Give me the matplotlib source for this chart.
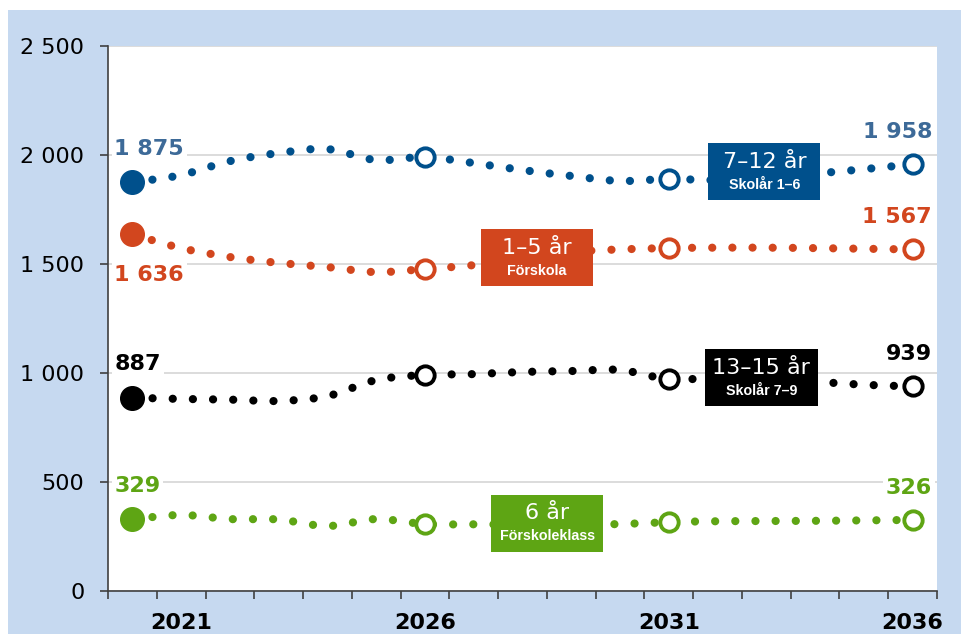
import numpy as np
import matplotlib
matplotlib.use("Agg")
import matplotlib.pyplot as plt
from matplotlib.path import Path
from matplotlib.patches import PathPatch, Rectangle

# ------------------------------------------------------------
# Befolkningsprognos per åldersgrupp 2020-2036
# ------------------------------------------------------------

years = list(range(2020, 2037))
tick_years = [2021, 2026, 2031, 2036]

v_7_12 = [1875, 1908, 1972, 2009, 2027, 1977, 1991, 1963, 1931, 1904,
          1881, 1890, 1885, 1898, 1915, 1935, 1958]
v_1_5 = [1636, 1573, 1532, 1505, 1486, 1463, 1477, 1495, 1525, 1555,
         1567, 1573, 1575, 1575, 1573, 1570, 1567]
v_13_15 = [887, 881, 878, 872, 894, 968, 991, 995, 1005, 1009,
           1014, 972, 977, 968, 960, 946, 939]
v_6 = [329, 349, 330, 328, 298, 330, 307, 306, 305, 305,
       307, 316, 320, 321, 322, 324, 326]

hollow_years = [2026, 2031, 2036]

C_BLUE = "#00508C"
C_BLUE_TXT = "#3D6A98"
C_ORANGE = "#D2461E"
C_BLACK = "#000000"
C_GREEN = "#5EA514"
C_BG = "#C6D9F0"

# (värden, färg, etikettfärg, rubrik, underrubrik, boxens mitt (x, y), start-etikett ovan/under)
serier = [
    (v_7_12, C_BLUE, C_BLUE_TXT, "7\u201312 år", "Skolår 1\u20136", (12.96, 1924), "ovan"),
    (v_1_5, C_ORANGE, C_ORANGE, "1\u20135 år", "Förskola", (8.3, 1530), "under"),
    (v_13_15, C_BLACK, C_BLACK, "13\u201315 år", "Skolår 7\u20139", (12.9, 980), "ovan"),
    (v_6, C_GREEN, C_GREEN, "6 år", "Förskoleklass", (8.51, 311), "ovan"),
]


def fmt(v):
    return f"{v:,}".replace(",", " ")


def smooth_path(xs, ys):
    # Catmull-Rom -> Bezier, som Excels "utjämnad linje"
    pts = np.column_stack([xs, ys]).astype(float)
    n = len(pts)
    verts = [pts[0]]
    codes = [Path.MOVETO]
    for i in range(n - 1):
        p0 = pts[i - 1] if i > 0 else pts[i]
        p1 = pts[i]
        p2 = pts[i + 1]
        p3 = pts[i + 2] if i + 2 < n else pts[i + 1]
        c1 = p1 + (p2 - p0) / 6.0
        c2 = p2 - (p3 - p1) / 6.0
        verts += [c1, c2, p2]
        codes += [Path.CURVE4] * 3
    return Path(verts, codes)


fig = plt.figure(figsize=(9.61, 6.34), dpi=100, facecolor="white")
fig.add_artist(Rectangle((0.0083, 0), 0.9917, 0.9842, transform=fig.transFigure,
                         facecolor=C_BG, edgecolor="none", zorder=-10))

ax = fig.add_axes([0.1124, 0.0678, 0.8626, 0.8596])
ax.set_facecolor("white")

x = np.arange(len(years))

for vals, col, txtcol, rubrik, under, (bx, by), pos in serier:
    path = smooth_path(x, vals)
    patch = PathPatch(path, fill=False, edgecolor=col, lw=5.9,
                      linestyle=(0, (0.01, 2.45)), capstyle="round", zorder=3)
    ax.add_patch(patch)

    # utfall (fylld) och prognos (ihålig)
    ax.plot(x[0], vals[0], "o", ms=17, color=col, zorder=5)
    hx = [years.index(y) for y in hollow_years]
    ax.plot(hx, [vals[i] for i in hx], "o", ms=13.2, mfc="white", mec=col,
            mew=2.8, zorder=5)

    # värdeetiketter
    dy = 24 if pos == "ovan" else -29
    ax.annotate(fmt(vals[0]), (x[0], vals[0]), xytext=(-13, dy),
                textcoords="offset points", ha="left", va="center",
                fontsize=16, fontweight="bold", color=txtcol, zorder=6,
                bbox=dict(boxstyle="square,pad=0.12", fc="white", ec="none"))
    ax.annotate(fmt(vals[-1]), (x[-1], vals[-1]), xytext=(14, 23),
                textcoords="offset points", ha="right", va="center",
                fontsize=16, fontweight="bold", color=txtcol, zorder=6,
                bbox=dict(boxstyle="square,pad=0.12", fc="white", ec="none"))

    # namnbox
    bw, bh = 2.3, 261
    ax.add_patch(Rectangle((bx - bw / 2, by - bh / 2), bw, bh, facecolor=col,
                           edgecolor="none", zorder=7))
    ax.annotate(rubrik, (bx, by), xytext=(0, 7), textcoords="offset points",
                ha="center", va="center", fontsize=16, color="white", zorder=8)
    ax.annotate(under, (bx, by), xytext=(0, -9.5), textcoords="offset points",
                ha="center", va="center", fontsize=10.3, fontweight="bold",
                family="Liberation Sans", color="white", zorder=8)

# axlar
ax.set_xlim(-0.5, len(years) - 0.5)
ax.set_ylim(0, 2500)
ax.set_yticks(range(0, 2501, 500))
ax.set_yticklabels([fmt(v) for v in range(0, 2501, 500)])
ax.yaxis.grid(True, color="#D9D9D9", lw=1.3, zorder=1)
ax.set_axisbelow(True)

ax.set_xticks(np.arange(-0.5, len(years), 1.0))
ax.set_xticklabels([])
ax.set_xticks([years.index(y) for y in tick_years], minor=True)
ax.set_xticklabels([str(y) for y in tick_years], minor=True)

ax.tick_params(axis="y", direction="out", length=6, width=1.2, color="#404040",
               pad=11, labelsize=16)
ax.tick_params(axis="x", which="major", direction="out", length=6, width=1.2,
               color="#404040")
ax.tick_params(axis="x", which="minor", length=0, pad=16, labelsize=16)
for lab in ax.get_xticklabels(minor=True):
    lab.set_fontweight("bold")

for s in ["top", "right"]:
    ax.spines[s].set_visible(False)
for s in ["left", "bottom"]:
    ax.spines[s].set_color("#404040")
    ax.spines[s].set_linewidth(1.2)

fig.savefig("out.png", dpi=100, facecolor="white")
